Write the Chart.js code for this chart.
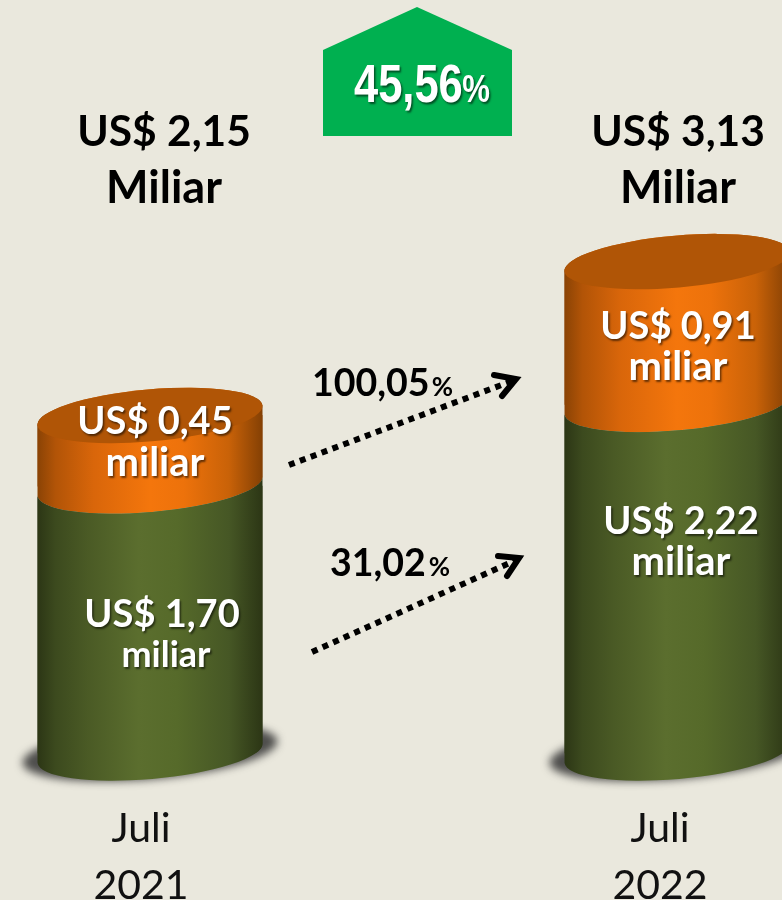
<!DOCTYPE html>
<html>
<head>
<meta charset="utf-8">
<style>html,body{margin:0;padding:0;background:#EAE8DD;overflow:hidden}canvas{display:block}</style>
<script src="https://cdn.jsdelivr.net/npm/chart.js@4/dist/chart.umd.min.js"></script>
</head>
<body>
<canvas id="c" width="782" height="900"></canvas>
<script>
const categories = [["Juli", "2021"], ["Juli", "2022"]];
const lowerSeries = [1.70, 2.22];
const upperSeries = [0.45, 0.91];
const totalLabels = ["US$ 2,15", "US$ 3,13"];
const totalUnit = "Miliar";
const lowerLabels = ["US$ 1,70", "US$ 2,22"];
const upperLabels = ["US$ 0,45", "US$ 0,91"];
const segmentUnit = "miliar";
const upperGrowth = "100,05";
const lowerGrowth = "31,02";
const totalGrowth = "45,56";

const BAR_W = 225, RX = BAR_W / 2 / Math.cos(5 * Math.PI / 180), RY = 26, TILT = -5 * Math.PI / 180;
const FONT = "Lato, 'Open Sans', sans-serif";
const tickShift = [-9, -17];

function ell(ctx, x, y, a0, a1, ccw) { ctx.ellipse(x, y, RX, RY, TILT, a0, a1, !!ccw); }

function grad(ctx, cx, stops) {
  const g = ctx.createLinearGradient(cx - BAR_W / 2, 0, cx + BAR_W / 2, 0);
  stops.forEach(s => g.addColorStop(s[0], s[1]));
  return g;
}
const greenStops = [[0, "#2c3615"], [0.08, "#3c4a1e"], [0.22, "#4a5a25"], [0.45, "#5b6e2e"], [0.62, "#566a2a"], [0.85, "#465725"], [1, "#2c3615"]];
const orangeStops = [[0, "#8a4305"], [0.08, "#b25407"], [0.25, "#d9660a"], [0.5, "#f4760c"], [0.65, "#ed720b"], [0.85, "#c96208"], [1, "#844004"]];

function text(ctx, s, x, y, font, color, align, shadow, sx) {
  ctx.save();
  ctx.font = font; ctx.fillStyle = color; ctx.textAlign = align || "center"; ctx.textBaseline = "alphabetic";
  if (shadow) { ctx.shadowColor = "rgba(0,0,0,0.55)"; ctx.shadowBlur = 2; ctx.shadowOffsetX = 1.5; ctx.shadowOffsetY = 1.5; }
  ctx.translate(x, y);
  if (sx) ctx.scale(sx, 1);
  ctx.fillText(s, 0, 0);
  ctx.restore();
}

function arrow(ctx, x0, y0, x1, y1, b1x, b1y, b2x, b2y) {
  ctx.save();
  ctx.strokeStyle = "#000";
  ctx.lineWidth = 6;
  ctx.setLineDash([6, 5.6]);
  ctx.beginPath(); ctx.moveTo(x0, y0); ctx.lineTo(x1 - (x1 - x0) * 0.04, y1 - (y1 - y0) * 0.04); ctx.stroke();
  ctx.setLineDash([]);
  ctx.lineCap = "round";
  ctx.lineWidth = 6;
  ctx.beginPath(); ctx.moveTo(b1x, b1y); ctx.lineTo(x1 - 4, y1 + 1); ctx.lineTo(b2x, b2y); ctx.stroke();
  ctx.beginPath(); ctx.moveTo(x1, y1); ctx.lineTo(x1 - 13, y1 - 2); ctx.lineTo(x1 - 8, y1 + 9); ctx.closePath(); ctx.fillStyle = "#000"; ctx.fill();
  ctx.restore();
}

const cylinderPlugin = {
  id: "cylinder",
  beforeDatasetsDraw(chart) {
    const ctx = chart.ctx, meta = chart.getDatasetMeta(0);
    meta.data.forEach(el => {
      ctx.save();
      ctx.filter = "blur(4px)";
      ctx.fillStyle = "rgba(50,50,50,0.85)";
      ctx.beginPath();
      ctx.ellipse(el.x, el.base - 1, RX + 15, RY + 1, TILT, 0, 2 * Math.PI);
      ctx.fill();
      ctx.restore();
    });
  },
  beforeDatasetDraw(chart, args) {
    const ctx = chart.ctx, isTop = args.index === 1;
    ctx.save();
    ctx.beginPath();
    args.meta.data.forEach(el => {
      const x = el.x, yT = el.y, yB = el.base;
      ctx.moveTo(x - RX * Math.cos(TILT), yT - RX * Math.sin(TILT));
      if (isTop) ell(ctx, x, yT, Math.PI, 2 * Math.PI);
      else ell(ctx, x, yT, Math.PI, 0, true);
      ell(ctx, x, yB, 0, Math.PI);
      ctx.closePath();
    });
    ctx.clip();
    args.meta.data.forEach(el => {
      ctx.fillStyle = grad(ctx, el.x, isTop ? orangeStops : greenStops);
      ctx.fillRect(el.x - RX - 2, 0, 2 * RX + 4, 900);
    });
  },
  afterDatasetDraw(chart, args) {
    const ctx = chart.ctx;
    ctx.restore();
    if (args.index === 1) {
      args.meta.data.forEach(el => {
        ctx.fillStyle = "#b05506";
        ctx.beginPath();
        ell(ctx, el.x, el.y, 0, 2 * Math.PI);
        ctx.fill();
      });
    }
  },
  afterDraw(chart) {
    const ctx = chart.ctx;
    const f = (w, s) => `${w} ${s}px ${FONT}`;

    text(ctx, totalLabels[0], 164, 146, f(700, 42.5), "#000");
    text(ctx, totalUnit, 164, 203, f(700, 45), "#000");
    text(ctx, totalLabels[1], 678, 146, f(700, 42.5), "#000");
    text(ctx, totalUnit, 678, 203, f(700, 45), "#000");

    text(ctx, upperLabels[0], 155, 434, f(700, 38), "#fff", "center", true);
    text(ctx, segmentUnit, 155, 476, f(700, 40), "#fff", "center", true);
    text(ctx, upperLabels[1], 678, 339, f(700, 38), "#fff", "center", true);
    text(ctx, segmentUnit, 678, 380, f(700, 40), "#fff", "center", true);
    text(ctx, lowerLabels[1], 681, 534, f(700, 38), "#fff", "center", true);
    text(ctx, segmentUnit, 681, 575, f(700, 40), "#fff", "center", true);
    text(ctx, lowerLabels[0], 162, 627, f(700, 38), "#fff", "center", true);
    text(ctx, segmentUnit, 166, 667, f(700, 36), "#fff", "center", true);

    text(ctx, upperGrowth, 312, 396, f(700, 37.5), "#000", "left");
    text(ctx, "%", 453, 396, f(700, 26), "#000", "right");
    text(ctx, lowerGrowth, 330, 576, f(700, 37.5), "#000", "left");
    text(ctx, "%", 450, 576, f(700, 26), "#000", "right");
    arrow(ctx, 289, 465, 520, 378, 494, 375, 502, 396);
    arrow(ctx, 312, 652, 523, 557, 498, 556, 507, 576);

    ctx.save();
    ctx.fillStyle = "#00B050";
    ctx.beginPath();
    ctx.moveTo(323, 50); ctx.lineTo(417, 7); ctx.lineTo(512, 50); ctx.lineTo(512, 136); ctx.lineTo(323, 136);
    ctx.closePath(); ctx.fill();
    ctx.restore();
    const ARIAL = "'Liberation Sans', sans-serif";
    text(ctx, totalGrowth, 354, 102, `700 53px ${ARIAL}`, "#fff", "left", true, 0.82);
    text(ctx, "%", 490, 102, `700 38px ${ARIAL}`, "#fff", "right", true, 0.82);
  }
};

const bg = stops => c => {
  const s = c.chart.scales.x;
  const x = s ? s.getPixelForValue(c.dataIndex) : 0;
  return grad(c.chart.ctx, isFinite(x) ? x : 0, stops);
};

new Chart(document.getElementById("c"), {
  type: "bar",
  data: {
    labels: categories,
    datasets: [
      { label: "lower", data: lowerSeries, backgroundColor: bg(greenStops), borderWidth: 0, barThickness: BAR_W, clip: false },
      { label: "upper", data: upperSeries, backgroundColor: bg(orangeStops), borderWidth: 0, barThickness: BAR_W, clip: false }
    ]
  },
  options: {
    responsive: false,
    animation: false,
    devicePixelRatio: 1,
    layout: { padding: { left: 150, right: 105, top: 0, bottom: 0 } },
    plugins: { legend: { display: false }, tooltip: { enabled: false }, title: { display: false } },
    scales: {
      x: {
        stacked: true,
        offset: false,
        grid: { display: false },
        border: { display: false },
        afterFit(s) {
          s.height = 147;
          const base = Object.getPrototypeOf(s).getPixelForTick;
          s.getPixelForTick = i => base.call(s, i) + tickShift[i];
        },
        ticks: {
          autoSkip: false, maxRotation: 0, minRotation: 0, padding: 39, color: "#111",
          font: { family: FONT, size: 41, lineHeight: 1.39 }
        }
      },
      y: { stacked: true, display: false, min: 0, max: 4.796 }
    }
  },
  plugins: [cylinderPlugin]
});
</script>
</body>
</html>
